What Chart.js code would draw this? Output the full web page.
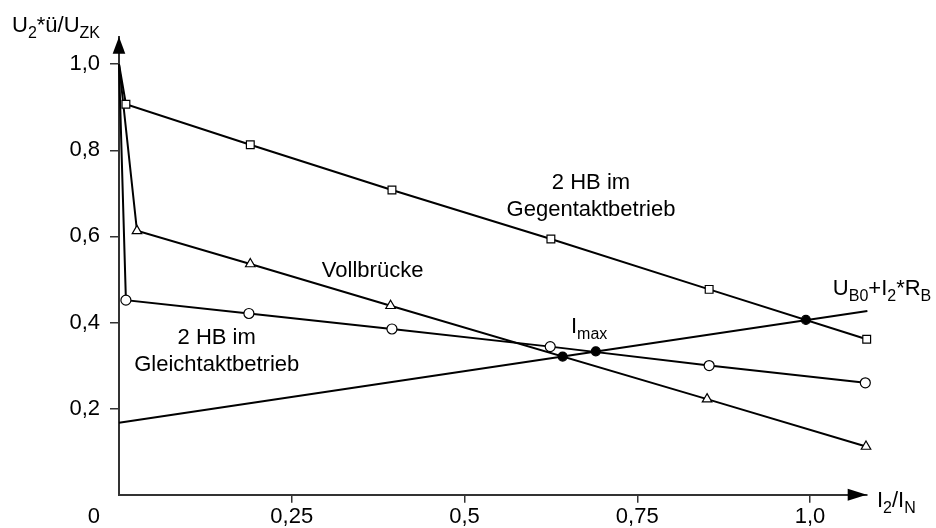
<!DOCTYPE html>
<html><head><meta charset="utf-8">
<script src="https://cdn.jsdelivr.net/npm/chart.js@4"></script>
<style>html,body{margin:0;padding:0;background:#fff}canvas{display:block}</style>
</head><body>
<canvas id="c" width="936" height="528"></canvas>
<script>
const FONT = '"Liberation Sans", Arial, Helvetica, sans-serif';

// Output voltage U2*ü/UZK over relative load current I2/IN
const gegentaktX = [0, 0.010, 0.190, 0.395, 0.625, 0.854, 1.082];
const gegentaktY = [1.0, 0.907, 0.813, 0.708, 0.594, 0.477, 0.361];
const gleichtaktX = [0, 0.010, 0.188, 0.395, 0.624, 0.854, 1.080];
const gleichtaktY = [1.0, 0.452, 0.421, 0.385, 0.344, 0.300, 0.260];
const vollbrueckeX = [0, 0.026, 0.190, 0.393, 0.851, 1.081];
const vollbrueckeY = [1.0, 0.613, 0.536, 0.439, 0.222, 0.112];
// Load line U_B0 + I2*R_B
const lastX = [0, 1.083];
const lastY = [0.167, 0.427];
// Operating points where the load line crosses the characteristics
const schnittX = [0.642, 0.690, 0.994];
const schnittY = [0.321, 0.333, 0.406];

const xTickValues = [0.25, 0.5, 0.75, 1.0];
const xTickLabels = ['0,25', '0,5', '0,75', '1,0'];
const yTickValues = [0.2, 0.4, 0.6, 0.8, 1.0];
const yTickLabels = ['0,2', '0,4', '0,6', '0,8', '1,0'];

const pts = (xs, ys) => xs.map((x, i) => ({x, y: ys[i]}));
const markerRadius = r => ctx => (ctx.dataIndex === 0 ? 0 : r);

const AXIS = '#333';
const MAIN = 22, SUB = 16;

function richText(ctx, x, y, parts) {
  // parts: [text, isSubscript]
  let cx = x;
  for (const [t, sub] of parts) {
    ctx.font = (sub ? SUB : MAIN) + 'px ' + FONT;
    ctx.fillText(t, cx, sub ? y + 6 : y);
    cx += ctx.measureText(t).width;
  }
}

const decorations = {
  id: 'decorations',
  afterDraw(chart) {
    const {ctx, chartArea: a, scales: {x, y}} = chart;
    ctx.save();
    ctx.fillStyle = '#000';
    // arrow heads on both axes
    ctx.beginPath();
    ctx.moveTo(a.left, a.top);
    ctx.lineTo(a.left - 6.3, a.top + 17);
    ctx.lineTo(a.left + 6.3, a.top + 17);
    ctx.closePath();
    ctx.fill();
    ctx.beginPath();
    ctx.moveTo(a.right, a.bottom);
    ctx.lineTo(a.right - 19, a.bottom - 6);
    ctx.lineTo(a.right - 19, a.bottom + 6);
    ctx.closePath();
    ctx.fill();

    ctx.fillStyle = '#000';
    ctx.textBaseline = 'middle';
    ctx.textAlign = 'center';
    ctx.font = MAIN + 'px ' + FONT;
    const c = (t, vx, vy) => ctx.fillText(t, x.getPixelForValue(vx), y.getPixelForValue(vy));
    c('2 HB im', 0.683, 0.7235);
    c('Gegentaktbetrieb', 0.683, 0.6615);
    c('Vollbrücke', 0.367, 0.5204);
    c('2 HB im', 0.1414, 0.3634);
    c('Gleichtaktbetrieb', 0.1414, 0.3013);

    // origin label
    ctx.textAlign = 'right';
    ctx.fillText('0', a.left - 19, a.bottom + 22);

    ctx.textAlign = 'left';
    ctx.textBaseline = 'alphabetic';
    richText(ctx, x.getPixelForValue(0.654), y.getPixelForValue(0.3757), [['I', false], ['max', true]]);
    richText(ctx, x.getPixelForValue(1.033), y.getPixelForValue(0.464),
      [['U', false], ['B0', true], ['+I', false], ['2', true], ['*R', false], ['B', true]]);
    // axis titles
    richText(ctx, 12, 32, [['U', false], ['2', true], ['*ü/U', false], ['ZK', true]]);
    richText(ctx, 877, 507, [['I', false], ['2', true], ['/I', false], ['N', true]]);
    ctx.restore();
  }
};

const lineStyle = {
  type: 'line', showLine: true, tension: 0, clip: false,
  borderColor: '#000', borderWidth: 2,
  pointBackgroundColor: '#fff', pointBorderColor: '#000', pointBorderWidth: 1.2,
  pointHoverRadius: 0
};

new Chart(document.getElementById('c'), {
  type: 'scatter',
  data: {
    datasets: [
      {...lineStyle, label: 'Schnittpunkte', data: pts(schnittX, schnittY), showLine: false,
       pointStyle: 'circle', pointRadius: 4.5, pointBackgroundColor: '#000', order: 0},
      {...lineStyle, label: 'U_B0+I2*R_B', data: pts(lastX, lastY), pointRadius: 0, order: 1},
      {...lineStyle, label: '2 HB im Gegentaktbetrieb', data: pts(gegentaktX, gegentaktY),
       pointStyle: 'rect', pointRadius: markerRadius(5.5), order: 2},
      {...lineStyle, label: 'Vollbrücke', data: pts(vollbrueckeX, vollbrueckeY),
       pointStyle: 'triangle', pointRadius: markerRadius(5.5), order: 3},
      {...lineStyle, label: '2 HB im Gleichtaktbetrieb', data: pts(gleichtaktX, gleichtaktY),
       pointStyle: 'circle', pointRadius: markerRadius(5), order: 4}
    ]
  },
  options: {
    responsive: false,
    devicePixelRatio: 1,
    animation: false,
    layout: {padding: {top: 36.7, right: 69.3, left: 0, bottom: 0}},
    plugins: {legend: {display: false}, tooltip: {enabled: false}},
    scales: {
      x: {
        type: 'linear', min: 0, max: 1.082,
        afterBuildTicks: s => { s.ticks = xTickValues.map(v => ({value: v})); },
        afterFit: s => { s.height = 33.3; },
        ticks: {callback: (v, i) => xTickLabels[i], color: '#000', padding: 1,
                maxRotation: 0, autoSkip: false, font: {family: FONT, size: MAIN}},
        grid: {drawOnChartArea: false, drawTicks: true, tickLength: 8, color: AXIS, lineWidth: 1.5},
        border: {display: true, color: AXIS, width: 2}
      },
      y: {
        type: 'linear', min: 0, max: 1.064,
        afterBuildTicks: s => { s.ticks = yTickValues.map(v => ({value: v})); },
        afterFit: s => { s.width = 119; },
        ticks: {callback: (v, i) => yTickLabels[i], color: '#000', padding: 10,
                autoSkip: false, font: {family: FONT, size: MAIN}},
        grid: {drawOnChartArea: false, drawTicks: true, tickLength: 9, color: AXIS, lineWidth: 1.5},
        border: {display: true, color: AXIS, width: 2}
      }
    }
  },
  plugins: [decorations]
});
</script>
</body></html>
